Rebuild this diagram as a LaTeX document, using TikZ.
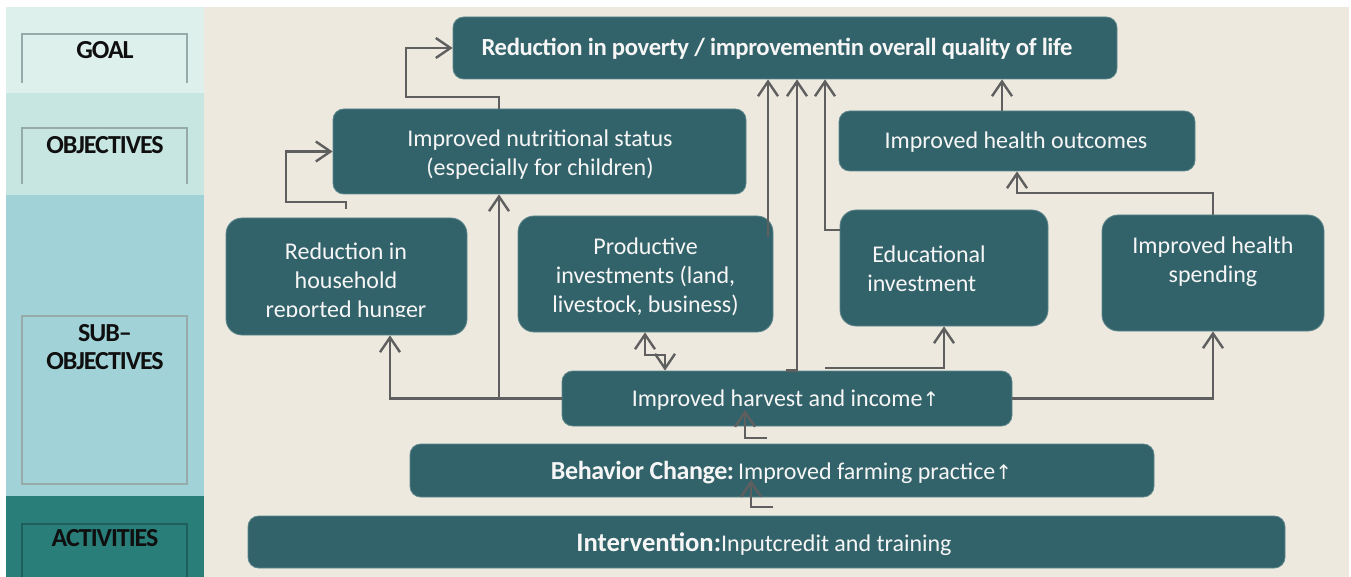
\documentclass[tikz,border=0pt]{standalone}
\usepackage{fontspec}
\setmainfont{Carlito}
\newfontfamily\lblfont[LetterSpace=-4]{Carlito}
\newfontfamily\tightfont[LetterSpace=-1.5]{Carlito}
\newfontfamily\symfont{DejaVu Sans}
\usetikzlibrary{arrows.meta,calc}
\definecolor{boxfill}{RGB}{51,99,106}
\definecolor{boxedge}{RGB}{95,135,140}
\definecolor{boxtext}{RGB}{246,246,246}
\definecolor{conncol}{RGB}{95,95,95}
\definecolor{beige}{RGB}{237,233,223}
\definecolor{bandA}{RGB}{222,240,236}
\definecolor{bandB}{RGB}{199,230,225}
\definecolor{bandC}{RGB}{161,210,216}
\definecolor{bandD}{RGB}{42,126,122}
\definecolor{brkcol}{RGB}{150,170,170}
\definecolor{brkdark}{RGB}{30,95,92}
\definecolor{lbltext}{RGB}{15,15,15}
\begin{document}
\begin{tikzpicture}[x=0.75pt,y=-0.75pt,
  box/.style={draw=boxedge,fill=boxfill,line width=0.6pt,rounded corners=12pt,inner sep=0pt},
  flatbox/.style={box,rounded corners=8pt},
  txt/.style={text=boxtext,font=\fontsize{18}{21.75}\selectfont,align=center,inner sep=0pt},
  conn/.style={draw=conncol,line width=1.8pt},
  arr/.style={conn,-{Straight Barb[length=11pt,width=15pt]}},
  arrtwo/.style={conn,{Straight Barb[length=11pt,width=15pt]}-{Straight Barb[length=11pt,width=15pt]}},
  lbl/.style={text=lbltext,font=\lblfont\bfseries\fontsize{19.5}{20.5}\selectfont,align=center,inner sep=0pt},
  brk/.style={draw=brkcol,line width=1.5pt}]
\useasboundingbox (0,0) rectangle (1351,577);
\fill[white] (0,0) rectangle (1351,577);
\fill[beige] (204,7) rectangle (1349,577);
\fill[bandA] (6,7) rectangle (204,93);
\fill[bandB] (6,93) rectangle (204,195);
\fill[bandC] (6,195) rectangle (204,496);
\fill[bandD] (6,496) rectangle (204,577);
% left labels
\draw[brk] (22,83) -- (22,34) -- (187,34) -- (187,83);
\node[lbl] (lgoal) at (105,50) {GOAL};
\draw[brk] (22,184) -- (22,128) -- (187,128) -- (187,184);
\node[lbl] (lobj) at (105,145) {OBJECTIVES};
\draw[brk] (22,316) rectangle (187,484);
\node[lbl] (lsub) at (105,347) {SUB–\\OBJECTIVES};
\draw[brk,draw=brkdark] (22,577) -- (22,524) -- (187,524) -- (187,577);
\node[lbl] (lact) at (105,538) {ACTIVITIES};
% boxes
\node[flatbox,minimum width=498pt,minimum height=46.5pt] (goal) at (785,48) {};
\node[flatbox,minimum width=309.75pt,minimum height=63.75pt] (nutr) at (539.5,151.5) {};
\node[flatbox,minimum width=267pt,minimum height=45pt] (outc) at (1017,141) {};
\node[box,minimum width=180.75pt,minimum height=87.75pt] (hung) at (346.5,276.5) {};
\node[box,minimum width=191.25pt,minimum height=87pt] (prod) at (645.5,274) {};
\node[box,minimum width=156pt,minimum height=87pt] (educ) at (944,268) {};
\node[box,minimum width=166.5pt,minimum height=87pt] (spend) at (1213,273) {};
\node[flatbox,minimum width=337.5pt,minimum height=41.25pt] (harv) at (787,398.5) {};
\node[flatbox,minimum width=558pt,minimum height=39.75pt] (behav) at (782,470.5) {};
\node[flatbox,minimum width=777.75pt,minimum height=39pt] (interv) at (766.5,542) {};
% texts
\node[txt,font=\tightfont\bfseries\fontsize{18.5}{21.75}\selectfont] (goalT) at (777,49) {Reduction in poverty / improvementin overall quality of life};
\node[txt] (nutrT) at (540,155) {Improved nutritional status\\(especially for children)};
\node[txt] (outcT) at (1016,142) {Improved health outcomes};
\begin{scope}
\clip (226,218) rectangle (467,316);
\node[txt] (hungT) at (346,282) {Reduction in\\household\\reported hunger};
\end{scope}
\node[txt] (prodT) at (645.5,277) {Productive\\investments (land,\\livestock, business)};
\node[txt,align=left,anchor=west] (educT) at (867,269) {\hspace*{3.75pt}Educational\\investment};
\node[txt] (spendT) at (1213,262) {Improved health\\spending};
\node[txt] (harvT) at (785.5,400) {Improved harvest and income{\symfont\fontsize{15}{18}\selectfont ↑}};
\node[txt] (behavT) at (781.5,473) {{\tightfont\bfseries\fontsize{19.5}{21.75}\selectfont Behavior Change:}\,Improved farming practice{\symfont\fontsize{15}{18}\selectfont ↑}};
\node[txt] (intervT) at (764,544) {{\bfseries\fontsize{20}{24}\selectfont Intervention:}Inputcredit and training};
% connector helper points
\coordinate (x499) at (499,97);
\coordinate (c1b) at (406,97);
\coordinate (h1) at (346,209);
\coordinate (h2) at (286,202);
\coordinate (x390) at (390,0);
\coordinate (z1) at (645,355);
\coordinate (z2) at (665,355);
\coordinate (a1) at (768,237);
\coordinate (t1) at (786,372);
\coordinate (x797) at (797,0);
\coordinate (e1) at (825,230);
\coordinate (f1) at (825,368);
\coordinate (g1) at (0,193);
\coordinate (x1002) at (1002,0);
\coordinate (j1) at (767,438);
\coordinate (j2) at (745,410);
\coordinate (k1) at (773,507);
\coordinate (k2) at (751,480);
% connectors
\draw[arr] (nutr.north -| x499) -- (x499) -- (c1b) |- (goal.west);
\draw[arr] (h1) |- (h2) |- (nutr.west);
\draw[arr] (harv.west) -| (hung.south -| x390);
\draw[arr] (harv.west -| x499) -- (nutr.south -| x499);
\draw[arrtwo] (prod.south -| z1) -- (z1) -- (z2) -- (harv.north -| z2);
\draw[arr] (a1) -- (goal.south -| a1);
\draw[arr] (harv.north -| t1) -| (goal.south -| x797);
\draw[arr] (educ.west |- e1) -- (e1) -- (goal.south -| e1);
\draw[arr] (f1) -| (educ.south);
\draw[arr] (harv.east) -| (spend.south);
\draw[arr] (spend.north) |- (outc.south |- g1) -- (outc.south);
\draw[arr] (outc.north -| x1002) -- (goal.south -| x1002);
\draw[arr] (j1) -| (j2);
\draw[arr] (k1) -| (k2);
\end{tikzpicture}
\end{document}
